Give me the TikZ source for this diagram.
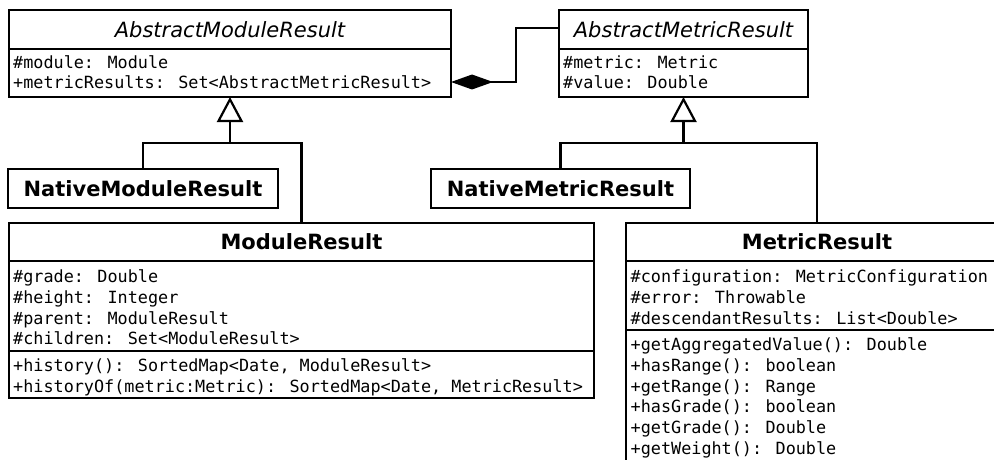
\documentclass[tikz,border=0pt]{standalone}
\usepackage{fontspec}
\setmainfont{DejaVu Sans}
\newfontfamily\umlmono{DejaVu Sans Mono}
\usetikzlibrary{arrows.meta}

\begin{document}
\begin{tikzpicture}[x=1pt,y=-1pt,
  classbox/.style={draw, line width=2.2pt, fill=white, inner sep=0pt, outer sep=0pt},
  compart/.style={line width=2.2pt},
  ctitle/.style={font=\fontsize{21}{25}\selectfont\bfseries, inner sep=0pt},
  atitle/.style={font=\fontsize{21}{25}\selectfont\itshape, inner sep=0pt},
  members/.style={font=\umlmono\fontsize{16.8}{20.7}\selectfont, inner sep=0pt, anchor=north west},
  link/.style={line width=2.2pt},
  gen/.style={link, -{Triangle[open, length=25pt, width=26pt]}},
  comp/.style={link, {Diamond[length=42pt, width=15pt]}-},
]
\useasboundingbox (0,0) rectangle (994,460);
\fill[white] (0,0) rectangle (994,460);
\clip (0,0) rectangle (994,460);

% helper coordinates for compartment separators
\coordinate (yhead) at (0,49);
\coordinate (yhead2) at (0,261);
\coordinate (ymr) at (0,350.7);
\coordinate (ymet) at (0,330);

% ---- AbstractModuleResult
\node[classbox, minimum width=442pt, minimum height=87pt] (amr) at (230,53.5) {};
\draw[compart] (amr.west |- yhead) -- (amr.east |- yhead);
\node[atitle] (amrT) at (230,29.5) {AbstractModuleResult};
\node[members] (amrA) at (13,53.6) {\begin{tabular}{@{}l@{}}\#module: Module\\+metricResults: Set<AbstractMetricResult>\end{tabular}};

% ---- AbstractMetricResult
\node[classbox, minimum width=249pt, minimum height=87pt] (amet) at (683.5,53.5) {};
\draw[compart] (amet.west |- yhead) -- (amet.east |- yhead);
\node[atitle] (ametT) at (683.5,29.5) {AbstractMetricResult};
\node[members] (ametA) at (563,53.6) {\begin{tabular}{@{}l@{}}\#metric: Metric\\\#value: Double\end{tabular}};

% ---- NativeModuleResult / NativeMetricResult
\node[classbox, minimum width=270pt, minimum height=39pt] (nmr) at (143,188.5) {};
\node[ctitle] (nmrT) at (143,188.5) {NativeModuleResult};
\node[classbox, minimum width=259pt, minimum height=39pt] (nmet) at (560.5,188.5) {};
\node[ctitle] (nmetT) at (560.5,188.5) {NativeMetricResult};

% ---- ModuleResult
\node[classbox, minimum width=585pt, minimum height=175pt] (mr) at (301.5,310.5) {};
\draw[compart] (mr.west |- yhead2) -- (mr.east |- yhead2);
\draw[compart] (mr.west |- ymr) -- (mr.east |- ymr);
\node[ctitle] (mrT) at (301.5,242) {ModuleResult};
\node[members] (mrA) at (13,268.2) {\begin{tabular}{@{}l@{}}\#grade: Double\\\#height: Integer\\\#parent: ModuleResult\\\#children: Set<ModuleResult>\end{tabular}};
\node[members] (mrO) at (13,357.2) {\begin{tabular}{@{}l@{}}+history(): SortedMap<Date, ModuleResult>\\+historyOf(metric:Metric): SortedMap<Date, MetricResult>\end{tabular}};

% ---- MetricResult
\node[classbox, minimum width=382pt, minimum height=247pt] (met) at (817,346.5) {};
\draw[compart] (met.west |- yhead2) -- (met.east |- yhead2);
\draw[compart] (met.west |- ymet) -- (met.east |- ymet);
\node[ctitle] (metT) at (817,242) {MetricResult};
\node[members] (metA) at (630.5,268.2) {\begin{tabular}{@{}l@{}}\#configuration: MetricConfiguration\\\#error: Throwable\\\#descendantResults: List<Double>\end{tabular}};
\node[members] (metO) at (630.5,336.2) {\begin{tabular}{@{}l@{}}+getAggregatedValue(): Double\\+hasRange(): boolean\\+getRange(): Range\\+hasGrade(): boolean\\+getGrade(): Double\\+getWeight(): Double\end{tabular}};

% ---- generalizations
\coordinate (g1) at (230,143);
\coordinate (g2) at (683.5,143);
\draw[link] (nmr.north) |- (g1) -| (mr.north);
\draw[gen] (g1) -- (amr.south);
\draw[link] (nmet.north) |- (g2) -| (met.north);
\draw[gen] (g2) -- (amet.south);

% ---- composition
\coordinate (cy) at (0,82);
\coordinate (ty) at (0,28);
\coordinate (bend) at (516,0);
\draw[comp] (amr.east |- cy) -- (bend |- cy) -- (bend |- ty) -- (amet.west |- ty);
\end{tikzpicture}
\end{document}
